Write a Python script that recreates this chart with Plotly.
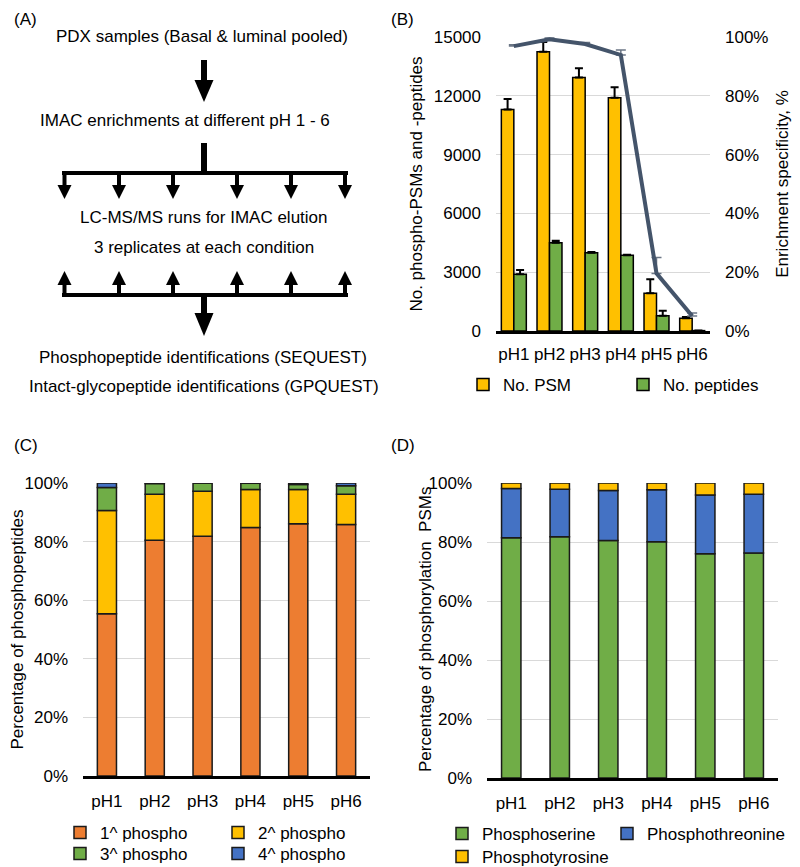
import plotly.graph_objects as go
import numpy as np

# ---------------- data ----------------
ph = ["pH1", "pH2", "pH3", "pH4", "pH5", "pH6"]

# Panel B
psm = [11300, 14250, 12930, 11900, 1920, 650]
psm_err = [540, 500, 480, 530, 720, 60]
pep = [2890, 4505, 3995, 3860, 780, 20]
pep_err = [220, 100, 30, 30, 250, 10]
spec = [96.9, 99.2, 97.6, 93.9, 19.6, 5.1]
spec_err = [0.5, 0.5, 0.5, 1.7, 5.4, 1.0]

# Panel C (% of phosphopeptides)
p1 = [55.4, 80.5, 81.8, 84.8, 86.1, 85.8]
p2 = [35.2, 15.7, 15.4, 13.0, 11.7, 10.4]
p3 = [7.9, 3.6, 2.8, 2.1, 1.7, 2.9]
p4 = [1.5, 0.2, 0.0, 0.1, 0.5, 0.9]

# Panel D (% of phosphorylation PSMs)
ser = [81.4, 81.8, 80.5, 80.1, 76.0, 76.3]
thr = [16.7, 16.1, 17.0, 17.6, 19.9, 19.9]
tyr = [1.9, 2.1, 2.5, 2.3, 4.1, 3.8]

# Panel A texts
flow_texts = [
    "PDX samples (Basal & luminal pooled)",
    "IMAC enrichments at different pH 1 - 6",
    "LC-MS/MS runs for IMAC elution",
    "3 replicates at each condition",
    "Phosphopeptide identifications (SEQUEST)",
    "Intact-glycopeptide identifications (GPQUEST)",
]

# ---------------- style ----------------
FONT = "Liberation Sans, Arial, sans-serif"
ORANGE = "#ED7D31"
GOLD = "#FFC000"
GREEN = "#70AD47"
BLUE = "#4472C4"
SLATE = "#44546A"
GRID = "#D9D9D9"
OFF = 8                      # page body margin of the html page
W, H = 800 - OFF, 867 - OFF  # figure size so that it fills the window
FS = 17

fig = go.Figure()

# ---------------- Panel B ----------------
fig.add_trace(go.Bar(
    x=ph, y=psm, name="No. PSM", xaxis="x", yaxis="y",
    width=0.35, offset=-0.35,
    marker=dict(color=GOLD, line=dict(color="black", width=1.5)),
    error_y=dict(type="data", array=psm_err, arrayminus=[0] * 6, symmetric=False,
                 color="black", thickness=2, width=4),
    legend="legend",
))
fig.add_trace(go.Bar(
    x=ph, y=pep, name="No. peptides", xaxis="x", yaxis="y",
    width=0.35, offset=0.0,
    marker=dict(color=GREEN, line=dict(color="black", width=1.5)),
    error_y=dict(type="data", array=pep_err, arrayminus=[0] * 6, symmetric=False,
                 color="black", thickness=2, width=4),
    legend="legend",
))
fig.add_trace(go.Scatter(
    x=ph, y=spec, name="Enrichment specificity", xaxis="x", yaxis="y2",
    mode="lines", line=dict(color=SLATE, width=4),
    error_y=dict(type="data", array=spec_err, arrayminus=[0] * 6, symmetric=False,
                 color="#6B7685", thickness=1.5, width=5),
    showlegend=False,
))

# ---------------- Panel C ----------------
c_series = [(p1, "1^ phospho", ORANGE, "legend2"), (p2, "2^ phospho", GOLD, "legend2"),
            (p3, "3^ phospho", GREEN, "legend3"), (p4, "4^ phospho", BLUE, "legend3")]
base = np.zeros(len(ph))
for vals, name, col, lg in c_series:
    fig.add_trace(go.Bar(
        x=ph, y=vals, base=base.copy(), name=name, xaxis="x2", yaxis="y3",
        width=0.4, marker=dict(color=col, line=dict(color="#1a1a1a", width=1.5)),
        legend=lg,
    ))
    base = base + np.array(vals)

# ---------------- Panel D ----------------
d_series = [(ser, "Phosphoserine", GREEN, "legend4"), (thr, "Phosphothreonine", BLUE, "legend6"),
            (tyr, "Phosphotyrosine", GOLD, "legend5")]
base = np.zeros(len(ph))
for vals, name, col, lg in d_series:
    fig.add_trace(go.Bar(
        x=ph, y=vals, base=base.copy(), name=name, xaxis="x3", yaxis="y4",
        width=0.4, marker=dict(color=col, line=dict(color="#1a1a1a", width=1.5)),
        legend=lg,
    ))
    base = base + np.array(vals)

# ---------------- Panel A (flowchart, page-pixel canvas) ----------------
shapes = []
def rect(x0, x1, y0, y1):
    shapes.append(dict(type="rect", xref="x4", yref="y5", x0=x0, x1=x1, y0=y0, y1=y1,
                       fillcolor="black", line=dict(width=0)))
def tri(pts):
    path = "M " + " L ".join(f"{x},{y}" for x, y in pts) + " Z"
    shapes.append(dict(type="path", xref="x4", yref="y5", path=path,
                       fillcolor="black", line=dict(width=0)))

rect(201, 207, 60, 81)
tri([(194.5, 80), (213.5, 80), (204, 102)])
rect(201, 207, 143, 174)
rect(62, 348, 171, 175)
small_x = [64.5, 119, 173, 237, 291, 345]
for cx in small_x:
    rect(cx - 2, cx + 2, 172, 186)
    tri([(cx - 7, 185), (cx + 7, 185), (cx, 199)])
    tri([(cx - 7, 285), (cx + 7, 285), (cx, 271)])
    rect(cx - 2, cx + 2, 284, 297)
rect(62, 348, 293, 297)
rect(201, 207, 295, 314)
tri([(194.5, 313), (213.5, 313), (204, 336)])

annotations = []
flow_pos = [(202, 36), (185, 120), (204, 217), (204, 247), (203, 357), (204, 386)]
for t, (x, y) in zip(flow_texts, flow_pos):
    annotations.append(dict(text=t, x=x, y=y, xref="x4", yref="y5", showarrow=False,
                            font=dict(size=17, color="black", family=FONT),
                            xanchor="center", yanchor="middle"))

def px_x(x):
    return (x - OFF) / W
def px_y(y):
    return 1 - (y - OFF) / H

for lab, px, py, ya in [("(A)", 12, OFF, "top"), ("(B)", 389, OFF, "top"),
                        ("(C)", 12, 445, "middle"), ("(D)", 389, 445, "middle")]:
    annotations.append(dict(text=lab, x=px_x(px), y=px_y(py), xref="paper", yref="paper",
                            showarrow=False, xanchor="left", yanchor=ya,
                            font=dict(size=17, color="black", family=FONT)))

# D y-axis title (sits partly beside the tick labels, as in the reference)
annotations.append(dict(text="Percentage of phosphorylation  PSMs", x=px_x(425), y=px_y(630),
                        xref="paper", yref="paper", showarrow=False, textangle=-90,
                        xanchor="center", yanchor="middle",
                        font=dict(size=FS, color="black", family=FONT)))

def dom_x(a, b):
    return [px_x(a), px_x(b)]
def dom_y(top, bottom):
    return [px_y(bottom), px_y(top)]

tickfont = dict(size=FS, color="black", family=FONT)
titlefont = dict(size=FS, color="black", family=FONT)

def legend_at(xpx, ypx, ew):
    return dict(orientation="h", x=px_x(xpx), y=px_y(ypx), xanchor="left", yanchor="middle",
                font=dict(size=FS, color="black", family=FONT), bgcolor="rgba(0,0,0,0)",
                entrywidth=ew, entrywidthmode="pixels", itemwidth=30, tracegroupgap=0)

fig.update_layout(
    width=W, height=H, margin=dict(l=0, r=0, t=0, b=0, autoexpand=False),
    paper_bgcolor="white", plot_bgcolor="white",
    barmode="overlay",
    font=dict(family=FONT, size=FS, color="black"),
    shapes=shapes, annotations=annotations,
    # Panel B axes
    xaxis=dict(domain=dom_x(496, 710), type="category", anchor="y",
               showline=True, linecolor="black", linewidth=3, showgrid=False,
               ticks="", ticklabelstandoff=6, tickfont=tickfont, fixedrange=True),
    yaxis=dict(domain=dom_y(37, 331), range=[0, 15000], dtick=3000, tickformat="d", anchor="x",
               showgrid=True, gridcolor=GRID, gridwidth=1, zeroline=False, showline=False,
               ticks="", ticklabelstandoff=14, tickfont=tickfont,
               title=dict(text="No. phospho-PSMs and -peptides", font=titlefont, standoff=6),
               fixedrange=True),
    yaxis2=dict(overlaying="y", side="right", anchor="x", range=[0, 100], dtick=20,
                ticksuffix="%", showgrid=False, zeroline=False, showline=False,
                ticks="", ticklabelstandoff=14, tickfont=tickfont,
                title=dict(text="Enrichment specificity, %", font=titlefont, standoff=8),
                fixedrange=True),
    # Panel C axes
    xaxis2=dict(domain=dom_x(83, 370), type="category", anchor="y3",
                showline=True, linecolor="black", linewidth=3, showgrid=False,
                ticks="", ticklabelstandoff=8, tickfont=tickfont, fixedrange=True),
    yaxis3=dict(domain=dom_y(483, 776), range=[0, 100], dtick=20, ticksuffix="%", anchor="x2",
                showgrid=True, gridcolor=GRID, gridwidth=1, zeroline=False, showline=False,
                ticks="", ticklabelstandoff=14, tickfont=tickfont,
                title=dict(text="Percentage of phosphopeptides", font=titlefont, standoff=0),
                fixedrange=True),
    # Panel D axes
    xaxis3=dict(domain=dom_x(487, 778), type="category", anchor="y4",
                showline=True, linecolor="black", linewidth=3, showgrid=False,
                ticks="", ticklabelstandoff=8, tickfont=tickfont, fixedrange=True),
    yaxis4=dict(domain=dom_y(483, 778), range=[0, 100], dtick=20, ticksuffix="%", anchor="x3",
                showgrid=True, gridcolor=GRID, gridwidth=1, zeroline=False, showline=False,
                ticks="", ticklabelstandoff=14, tickfont=tickfont, fixedrange=True),
    # Panel A canvas (page pixel coordinates)
    xaxis4=dict(domain=[0, px_x(400)], range=[OFF, 400], visible=False, anchor="y5", fixedrange=True),
    yaxis5=dict(domain=[px_y(420), 1], range=[420, OFF], visible=False, anchor="x4", fixedrange=True),
    legend=legend_at(463, 385, 115),
    legend2=legend_at(60, 833, 113),
    legend3=legend_at(60, 854, 113),
    legend4=legend_at(442, 834, 0),
    legend6=legend_at(607, 834, 0),
    legend5=legend_at(442, 857, 0),
)

fig.write_html("out.html")
